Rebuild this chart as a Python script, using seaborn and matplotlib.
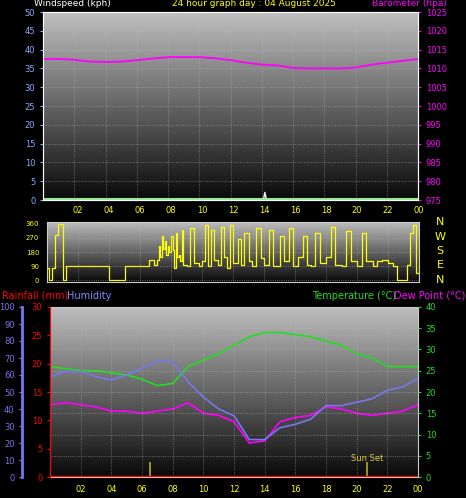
import numpy as np
import pandas as pd
import matplotlib
matplotlib.use("Agg")
import matplotlib.pyplot as plt
import seaborn as sns

hours = list(range(25))
pressure = [1012.5,1012.5,1012.3,1011.8,1011.7,1011.8,1012.2,1012.6,1013,1013,1013,1012.7,1012.2,1011.5,1011,1010.8,1010.1,1010,1010,1010,1010.2,1011,1011.5,1012,1012.5]
wind_t = [0, 14.1, 14.2, 14.3, 24]
wind_speed = [0, 0, 2, 0, 0]
dir_t = [0,0.1,0.3,0.5,0.7,0.8,1.0,1.2,1.4,1.6,1.8,2.0,3.0,3.9,4.0,4.9,5.0,5.5,6.0,6.3,6.6,6.9,7.1,7.2,7.3,7.4,7.5,7.6,7.7,7.8,7.9,8.0,8.1,8.2,8.3,8.4,8.5,8.6,8.7,8.8,9.0,9.2,9.5,9.8,10.0,10.2,10.4,10.6,10.8,11.0,11.2,11.4,11.6,11.8,12.0,12.3,12.5,12.7,13.0,13.2,13.5,13.8,14.0,14.3,14.6,15.0,15.3,15.6,15.9,16.2,16.5,16.8,17.0,17.3,17.6,18.0,18.3,18.6,19.0,19.3,19.6,20.0,20.3,20.6,21.0,21.3,21.6,22.0,22.3,22.6,23.0,23.2,23.4,23.6,23.8,24.0]
wind_dir = [80,0,80,290,360,360,0,90,90,90,90,90,90,90,0,0,90,90,90,90,130,100,130,220,150,280,200,250,160,220,180,280,190,80,300,150,160,120,320,100,90,330,110,90,120,350,90,320,130,100,340,150,80,350,110,260,100,300,120,90,330,140,100,320,90,280,120,330,90,150,280,100,90,300,110,150,340,100,90,310,120,90,300,120,90,120,130,110,90,0,0,100,300,350,50,90]
temp = [26,25.5,25,25,24.5,24,23,21.5,22,26,27.5,29,31,33,34,34,33.5,33,32,31,29,28,26,26,26]
humidity = [59,62,62,59,57,60,64,68,68,56,47,40,36,22,22,29,31,34,42,42,44,46,51,53,58]
dewpoint = [17,17.5,17,16.5,15.5,15.5,15,15.5,16,17.5,15,14.5,13,8,8.5,13,14,14.5,16.5,16,15,14.5,15,15.5,17]
rain = [0]*25
tick_labels = ["02","04","06","08","10","12","14","16","18","20","22","00"]
tick_pos = [2,4,6,8,10,12,14,16,18,20,22,24]
sunrise, sunset = 6.5, 20.7

sns.set_style("dark")
plt.rcParams['font.family'] = ['DejaVu Sans']
fig = plt.figure(figsize=(4.66, 4.98), dpi=100, facecolor="black")
W, H = 466, 498
def box(x0, y0, x1, y1):
    return [x0/W, 1-y1/H, (x1-x0)/W, (y1-y0)/H]

grad = np.linspace(0, 1, 256).reshape(-1, 1)
def bg(ax, ylim):
    ax.imshow(grad, cmap="gray", aspect="auto", extent=[0, 24, ylim[0], ylim[1]],
              vmin=-0.05, vmax=1.35, origin="lower", zorder=0)
    ax.set_xlim(0, 24); ax.set_ylim(*ylim)
    ax.grid(True, color="#bbbbbb", ls=":", lw=0.6, alpha=0.6)
    ax.set_axisbelow(False)
    for s in ax.spines.values(): s.set_color("#cccccc")
    ax.set_facecolor("black")

fs = 6
ax1 = fig.add_axes(box(43, 12, 418, 200))
bg(ax1, (0, 50))
sns.lineplot(x=wind_t, y=wind_speed, ax=ax1, color="white", lw=1)
ax1.axhline(0.3, color="#90ee90", lw=1.5)
ax1.set_xticks(tick_pos); ax1.set_xticklabels([])
ax1.tick_params(axis="x", colors="#cccccc", length=2)
ax1b = ax1.twinx()
sns.lineplot(x=hours, y=pressure, ax=ax1b, color="magenta", lw=1.3)
ax1b.set_ylim(975, 1025); ax1b.set_yticks(range(975, 1026, 5))
ax1b.tick_params(axis="y", colors="magenta", labelsize=fs, length=2)
ax1.set_yticks(range(0, 51, 5))
ax1.tick_params(axis="y", colors="#88aaff", labelsize=fs, length=2)
for a in (ax1, ax1b): a.set_ylabel(""); a.set_xlabel("")
fig.text(34/W, 1-4/H, "Windspeed (kph)", color="white", fontsize=6.5, va="center")
fig.text(172/W, 1-4/H, "24 hour graph day : 04 August 2025", color="yellow", fontsize=6.5, va="center")
fig.text(372/W, 1-4/H, "Barometer (hpa)", color="magenta", fontsize=6.5, va="center")

ax2 = fig.add_axes(box(47, 222, 419, 282))
bg(ax2, (-10, 370))
sns.lineplot(x=dir_t, y=wind_dir, ax=ax2, color="yellow", lw=0.9, drawstyle="steps-post")
ax2.set_yticks([0, 90, 180, 270, 360])
ax2.tick_params(axis="y", colors="yellow", labelsize=5, length=2)
ax2.set_xticks(tick_pos); ax2.set_xticklabels(tick_labels)
ax2.tick_params(axis="x", colors="yellow", labelsize=fs, length=0, labeltop=True, labelbottom=False, pad=5)
ax2.set_xlabel(""); ax2.set_ylabel("")
for i, c in enumerate("NWSEN"):
    fig.text(440/W, 1-(222+i*14.5)/H, c, color="yellow", fontsize=8, ha="center", va="center")

fig.text(2/W, 1-296/H, "Rainfall (mm)", color="red", fontsize=7, va="center")
fig.text(67/W, 1-296/H, "Humidity", color="#8888ff", fontsize=7, va="center")
fig.text(312/W, 1-296/H, "Temperature (°C)", color="#22dd22", fontsize=7, va="center")
fig.text(394/W, 1-296/H, "Dew Point (°C)", color="magenta", fontsize=7, va="center")
ax3 = fig.add_axes(box(50, 307, 418, 477))
bg(ax3, (0, 40))
ax3h = ax3.twinx()
ax3r = ax3.twinx()
sns.lineplot(x=hours, y=temp, ax=ax3, color="#22dd22", lw=1.2)
sns.lineplot(x=hours, y=dewpoint, ax=ax3, color="magenta", lw=1.2)
ax3.set_yticks(range(0, 41, 5))
ax3.yaxis.tick_right()
ax3.tick_params(axis="y", colors="#22dd22", labelsize=fs, length=2)
ax3.set_xticks(tick_pos); ax3.set_xticklabels(tick_labels)
ax3.tick_params(axis="x", colors="yellow", labelsize=fs, length=2)
ax3.vlines([sunrise, sunset], 0, 3.5, color="#bbaa22", lw=1.2)
ax3.text(sunset, 3.8, "Sun Set", color="#ddcc33", fontsize=6, ha="center")
ax3.set_xlabel(""); ax3.set_ylabel("")

ax3h.yaxis.tick_left()
sns.lineplot(x=hours, y=humidity, ax=ax3h, color="#7777ee", lw=1.2)
ax3h.set_ylim(0, 100); ax3h.set_yticks(range(0, 101, 10))
ax3h.tick_params(axis="y", colors="#7777ee", labelsize=fs, length=2)
for s in ["top", "right", "bottom"]: ax3h.spines[s].set_visible(False)
ax3h.spines["left"].set_position(("outward", 20))
ax3h.spines["left"].set_color("#7777ee"); ax3h.spines["left"].set_linewidth(2)
ax3h.set_ylabel("")

ax3r.yaxis.tick_left()
sns.lineplot(x=hours, y=rain, ax=ax3r, color="red", lw=2.5)
ax3r.set_ylim(0, 30); ax3r.set_yticks(range(0, 31, 5))
ax3r.tick_params(axis="y", colors="red", labelsize=fs, length=2)
for s in ["top", "right", "bottom"]: ax3r.spines[s].set_visible(False)
ax3r.spines["left"].set_color("red")
ax3r.set_ylabel("")

fig.savefig("out.png", dpi=100, facecolor="black")
